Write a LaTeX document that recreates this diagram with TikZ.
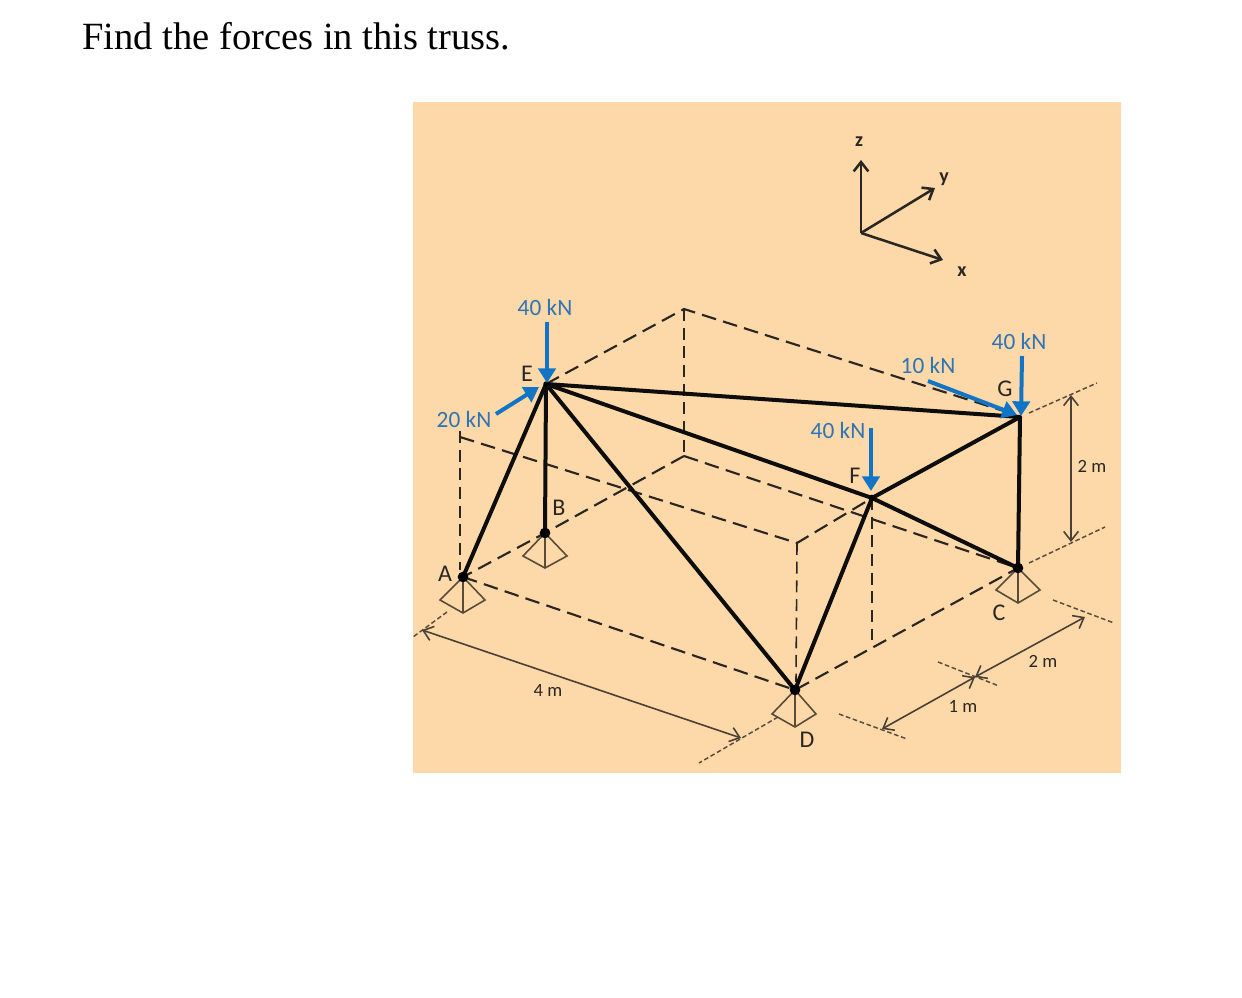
\documentclass[tikz,border=0pt]{standalone}
\usepackage{fontspec}
\setmainfont{Carlito}
\newfontfamily\titlefont{Liberation Serif}
\usetikzlibrary{arrows.meta}
\definecolor{panel}{HTML}{FDD9A9}
\definecolor{loadblue}{HTML}{1274C4}
\definecolor{loadtext}{HTML}{2F74B5}
\definecolor{inkdark}{HTML}{2A2622}
\definecolor{inkgrey}{HTML}{5A4C3A}
\tikzset{
  x=0.75pt,y=-0.75pt,
  member/.style={line width=3pt,black!95},
  hidden/.style={line width=1.6pt,inkdark,dash pattern=on 11pt off 5.5pt},
  thinhidden/.style={line width=1.2pt,inkdark,dash pattern=on 9pt off 5pt},
  extline/.style={line width=1.1pt,inkgrey,dash pattern=on 3.5pt off 2pt},
  dimline/.style={line width=1.2pt,inkdark!85!panel,{Straight Barb[length=7pt,width=11pt,line width=1.2pt]}-{Straight Barb[length=7pt,width=11pt,line width=1.2pt]}},
  axisline/.style={line width=1.9pt,inkdark,-{Straight Barb[length=7pt,width=11pt]}},
  load/.style={line width=3pt,loadblue,-{Triangle[length=11pt,width=13pt]}},
  loadlabel/.style={text=loadtext,font=\fontsize{17.5pt}{19pt}\selectfont,inner sep=0pt},
  dimlabel/.style={text=inkdark,font=\fontsize{14pt}{16pt}\selectfont,inner sep=0pt},
  jointlabel/.style={text=inkdark,font=\fontsize{18pt}{20pt}\selectfont,inner sep=0pt},
  axislabel/.style={text=inkdark,font=\bfseries\fontsize{15pt}{17pt}\selectfont,inner sep=0pt},
  joint/.style={circle,fill=black,inner sep=0pt,minimum size=8pt},
  support/.style={line width=1.2pt,inkgrey},
}
\begin{document}
\begin{tikzpicture}
\useasboundingbox (0,0) rectangle (1242,998);
\fill[white] (0,0) rectangle (1242,998);
\fill[panel] (413,102) rectangle (1121,773);
\node[anchor=base west,inner sep=0pt,font=\titlefont\fontsize{28.9pt}{32pt}\selectfont] (title) at (82,50) {Find the forces in this truss.};

% joints
\coordinate (A) at (463,577);
\coordinate (B) at (545,533);
\coordinate (C) at (1018,568);
\coordinate (D) at (795,690);
\coordinate (E) at (546,384);
\coordinate (F) at (872,498);
\coordinate (G) at (1020,417);
% box corners
\coordinate (T) at (684,309);
\coordinate (L) at (684,456);
\coordinate (P) at (460,431);
\coordinate (Pb) at (460,570);
\coordinate (Pr) at (460,437);
\coordinate (Q) at (797,543);
\coordinate (Qb) at (796,682);
\coordinate (Fb) at (872,640);
\coordinate (Gd) at (1010,413);

% hidden lines
\draw[hidden] (E) -- (T) -- (Gd);
\draw[thinhidden] (T) -- (L);
\draw[hidden] (L) -- (B) -- (A);
\draw[hidden] (L) -- (C);
\draw[hidden] (A) -- (D) -- (C);
\draw[thinhidden] (P) -- (Pb);
\draw[hidden] (Pr) -- (Q) -- (F);
\draw[thinhidden] (Q) -- (Qb);
\draw[thinhidden] (F) -- (Fb);

% supports
\draw[support] (A) -- (440,600) -- (463,613) -- (485,600) -- cycle (A) -- (463,613);
\draw[support] (B) -- (523,556) -- (545,568) -- (567,556) -- cycle (B) -- (545,568);
\draw[support] (D) -- (772,714) -- (795,727) -- (816,714) -- cycle (D) -- (795,727);
\draw[support] (C) -- (996,590) -- (1018,603) -- (1040,590) -- cycle (C) -- (1018,603);

% members
\draw[member] (A) -- (E);
\draw[member] (B) -- (E);
\draw[member] (D) -- (E);
\draw[member] (E) -- (G);
\draw[member] (E) -- (F);
\draw[member] (F) -- (C);
\draw[member] (F) -- (G);
\draw[member] (F) -- (D);
\draw[member] (G) -- (C);

\node[joint] (nA) at (A) {};
\node[joint] (nB) at (B) {};
\node[joint] (nC) at (C) {};
\node[joint] (nD) at (D) {};
\node[joint,minimum size=4pt] (nE) at (E) {};
\node[joint,minimum size=5pt] (nF) at (F) {};
\node[joint,minimum size=3pt] (nG) at (G) {};

% loads
\coordinate (l1) at (547,322); \coordinate (l1e) at (547,383);
\coordinate (l2) at (496,414); \coordinate (l2e) at (539,387);
\coordinate (l3) at (928,381); \coordinate (l3e) at (1017,415);
\coordinate (l4) at (1022,356); \coordinate (l4e) at (1021,416);
\coordinate (l5) at (871,428); \coordinate (l5e) at (871,491);
\draw[load] (l1) -- (l1e);
\draw[load] (l2) -- (l2e);
\draw[load] (l3) -- (l3e);
\draw[load] (l4) -- (l4e);
\draw[load] (l5) -- (l5e);
\node[loadlabel] (t1) at (545,307) {40 kN};
\node[loadlabel] (t2) at (464,419) {20 kN};
\node[loadlabel] (t3) at (928,365) {10 kN};
\node[loadlabel] (t4) at (1019,341) {40 kN};
\node[loadlabel] (t5) at (838,430) {40 kN};

% joint labels
\node[jointlabel] (tA) at (445,574) {A};
\node[jointlabel] (tB) at (559,508) {B};
\node[jointlabel] (tC) at (999,613) {C};
\node[jointlabel] (tD) at (807,740) {D};
\node[jointlabel] (tE) at (527,374) {E};
\node[jointlabel] (tF) at (855,476) {F};
\node[jointlabel] (tG) at (1005,389) {G};

% axes
\coordinate (O) at (861,233);
\coordinate (zt) at (861,160);
\coordinate (yt) at (935,188);
\coordinate (xt) at (943,260);
\draw[axisline] (O) -- (zt);
\draw[axisline] (O) -- (yt);
\draw[axisline] (O) -- (xt);
\node[axislabel] (tz) at (859,142) {z};
\node[axislabel] (ty) at (944,179) {y};
\node[axislabel] (tx) at (962,272) {x};

% dimension extension lines
\coordinate (e1a) at (1029,413); \coordinate (e1b) at (1097,383);
\coordinate (e2a) at (1029,563); \coordinate (e2b) at (1105,527);
\coordinate (e3a) at (1053,600); \coordinate (e3b) at (1114,623);
\coordinate (e4a) at (938,662);  \coordinate (e4b) at (999,686);
\coordinate (e5a) at (839,714);  \coordinate (e5b) at (907,739);
\coordinate (e6a) at (447,612);  \coordinate (e6b) at (413,637);
\coordinate (e7a) at (778,717);  \coordinate (e7b) at (699,763);
\foreach \a/\b in {e1a/e1b,e2a/e2b,e3a/e3b,e4a/e4b,e5a/e5b,e6a/e6b,e7a/e7b}
  \draw[extline] (\a) -- (\b);

% dimensions
\coordinate (d1a) at (422,630); \coordinate (d1b) at (741,738);
\coordinate (d2a) at (882,729); \coordinate (d2b) at (975,677);
\coordinate (d3a) at (975,677); \coordinate (d3b) at (1085,617);
\coordinate (d4a) at (1071,395); \coordinate (d4b) at (1071,542);
\draw[dimline] (d1a) -- (d1b);
\draw[dimline] (d2a) -- (d2b);
\draw[dimline] (d3a) -- (d3b);
\draw[dimline] (d4a) -- (d4b);
\node[dimlabel] (t4m) at (548,691) {4 m};
\node[dimlabel] (t1m) at (963,706) {1 m};
\node[dimlabel] (t2m) at (1043,661) {2 m};
\node[dimlabel] (t2mv) at (1092,466) {2 m};
\end{tikzpicture}
\end{document}
